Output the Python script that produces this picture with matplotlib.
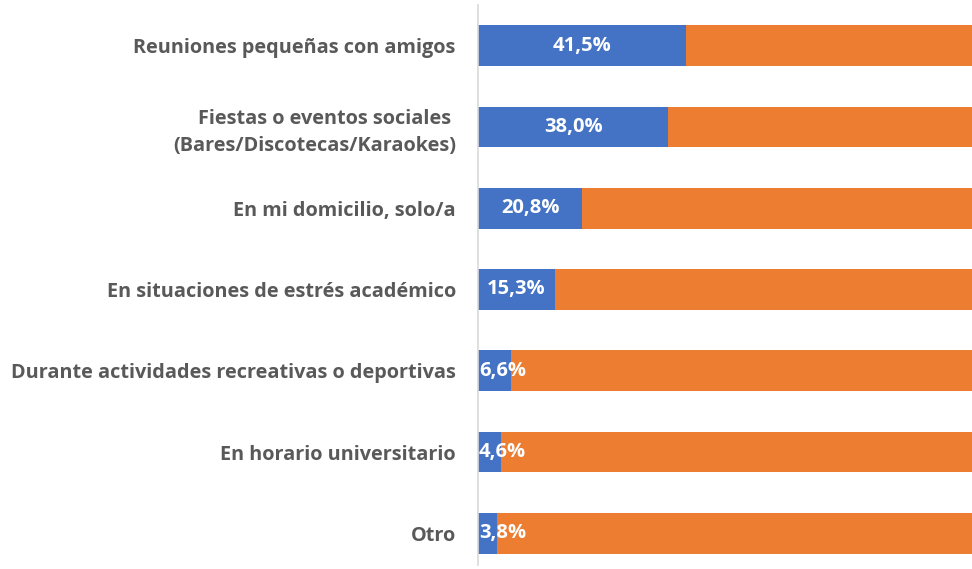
import matplotlib
matplotlib.use("Agg")
import matplotlib.pyplot as plt

categories = [
    "Reuniones pequeñas con amigos",
    "Fiestas o eventos sociales \n(Bares/Discotecas/Karaokes)",
    "En mi domicilio, solo/a",
    "En situaciones de estrés académico",
    "Durante actividades recreativas o deportivas",
    "En horario universitario",
    "Otro",
]
values = [41.5, 38.0, 20.8, 15.3, 6.6, 4.6, 3.8]
labels = ["41,5%", "38,0%", "20,8%", "15,3%", "6,6%", "4,6%", "3,8%"]
rest = [100 - v for v in values]

plt.rcParams['font.family'] = ['Open Sans', 'DejaVu Sans']

fig = plt.figure(figsize=(9.72, 5.69), dpi=100)
ax = fig.add_axes([478/972, 1 - 565/569, 1 - 478/972, (565 - 5)/569])

y = list(range(len(categories)))
ax.barh(y, values, height=0.5, color="#4472C4")
ax.barh(y, rest, left=values, height=0.5, color="#ED7D31")

for yi, v, lab in zip(y, values, labels):
    ax.text(max(v / 2, 4.9), yi, lab, ha="center", va="center", color="white",
            fontsize=14.5, fontweight="bold", clip_on=True)

ax.set_xlim(0, 98.6)
ax.set_ylim(6.39, -0.5)
ax.set_yticks(y)
ax.set_yticklabels(categories, fontsize=14.3, fontweight="bold", color="#595959",
                   linespacing=1.45)
ax.tick_params(axis="y", length=0, pad=16)
ax.set_xticks([])
for s in ["top", "right", "bottom"]:
    ax.spines[s].set_visible(False)
ax.spines["left"].set_color("#D9D9D9")
ax.spines["left"].set_linewidth(1.2)

fig.savefig("out.png", dpi=100)
